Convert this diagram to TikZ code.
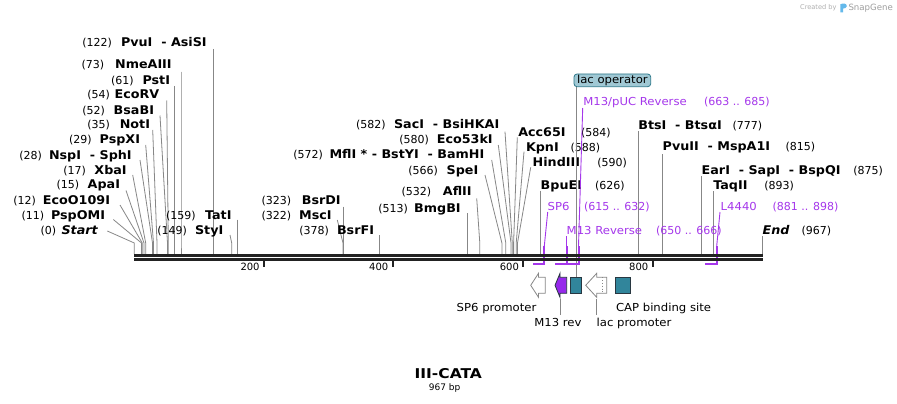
\documentclass[tikz,border=0pt]{standalone}
\usepackage{fontspec}
\setmainfont{DejaVu Sans}
\newfontfamily\lblfont{DejaVu Sans}[FakeStretch=1.06]
\newfontfamily\titlefont{DejaVu Sans}[FakeStretch=1.15]
\definecolor{cutgray}{RGB}{135,135,135}
\definecolor{seqblack}{RGB}{34,34,34}
\definecolor{primer}{RGB}{165,55,235}
\definecolor{mfill}{RGB}{150,40,235}
\definecolor{featteal}{RGB}{49,133,155}
\definecolor{featedge}{RGB}{40,55,65}
\definecolor{lacopfill}{RGB}{160,200,212}
\definecolor{lacopedge}{RGB}{45,120,138}
\definecolor{logoblue}{RGB}{100,185,235}
\definecolor{logogray}{RGB}{175,175,175}
\newcommand{\leftenz}[9]{%
  \node[num] (n#1) at (#2,#4) {#5};
  \node[enzE] (e#1) at (#3,#4) {#6};
  \coordinate (l#1) at (#7,#8);
  \coordinate (k#1) at (#9,243);
  \coordinate (s#1) at (#9,254);
  \draw[cutline] (l#1) -- (k#1) -- (s#1);}
\newcommand{\rightenz}[9]{%
  \node[enzW] (e#1) at (#2,#3) {#4};
  \node[num] (n#1) at (#5,#3) {#6};
  \coordinate (l#1) at (#7,#8);
  \coordinate (k#1) at (#9,243);
  \coordinate (s#1) at (#9,254);
  \draw[cutline] (l#1) -- (k#1) -- (s#1);}
\begin{document}
\begin{tikzpicture}[x=1pt,y=-1pt,
  num/.style={font=\fontsize{11}{13}\selectfont, inner sep=0pt, outer sep=0pt, anchor=base west},
  enzE/.style={font=\lblfont\fontsize{12}{14}\selectfont\bfseries, inner sep=0pt, outer sep=0pt, anchor=base east},
  enzW/.style={font=\lblfont\fontsize{12}{14}\selectfont\bfseries, inner sep=0pt, outer sep=0pt, anchor=base west},
  cutline/.style={draw=cutgray, line width=0.8pt},
  plabel/.style={font=\lblfont\fontsize{11}{13}\selectfont, text=primer, inner sep=0pt, outer sep=0pt, anchor=base west},
  pnum/.style={font=\fontsize{11}{13}\selectfont, text=primer, inner sep=0pt, outer sep=0pt, anchor=base west},
  pthin/.style={draw=primer, line width=0.9pt},
  pthick/.style={draw=primer, line width=2pt, line join=miter},
  flabel/.style={font=\lblfont\fontsize{11}{13}\selectfont, inner sep=0pt, outer sep=0pt, anchor=base west},
  seqline/.style={draw=seqblack, line width=2.6pt},
  tickmark/.style={draw=seqblack, line width=2pt},
  ticklab/.style={font=\fontsize{10}{12}\selectfont, inner sep=0pt, outer sep=0pt, anchor=base east},
  whitearrow/.style={draw=cutgray, line width=0.8pt, fill=white},
  tealbox/.style={draw=featedge, line width=0.8pt, fill=featteal, inner sep=0pt, minimum width=11.7pt, minimum height=16pt},
  lacopbox/.style={draw=lacopedge, fill=lacopfill, line width=0.8pt, rounded corners=3pt, inner sep=0pt,
     minimum width=76.7pt, minimum height=12.7pt, font=\lblfont\fontsize{11}{13}\selectfont},
  featline/.style={draw=cutgray, line width=0.8pt}
]
\useasboundingbox (0,0) rectangle (897,404);
\fill[white] (0,0) rectangle (897,404);

% ---- enzymes, left cluster
\leftenz{PvuI}{82.3}{206.7}{46.7}{(122)}{PvuI~~- AsiSI}{213.3}{49}{213.3}
\leftenz{NmeAIII}{81.7}{171.7}{68.3}{(73)}{NmeAIII}{181}{71.7}{181}
\leftenz{PstI}{111}{170}{84.3}{(61)}{PstI}{174.7}{86}{174.7}
\leftenz{EcoRV}{87.3}{159.3}{99}{(54)}{EcoRV}{166.7}{100.5}{168.3}
\leftenz{BsaBI}{82.3}{154}{114}{(52)}{BsaBI}{160}{115.5}{167.5}
\leftenz{NotI}{87.3}{150}{128.7}{(35)}{NotI}{152.7}{130}{157}
\leftenz{PspXI}{69}{140}{143.7}{(29)}{PspXI}{145.7}{145}{153.5}
\leftenz{NspI}{19.3}{131.7}{159}{(28)}{NspI~~- SphI}{140}{160}{152.5}
\leftenz{XbaI}{63.3}{126.7}{174}{(17)}{XbaI}{132.7}{175}{145.7}
\leftenz{ApaI}{56.7}{120}{188.7}{(15)}{ApaI}{126}{190.5}{144}
\leftenz{EcoO}{13.3}{110}{204}{(12)}{EcoO109I}{120}{205}{142.3}
\leftenz{PspOMI}{21.7}{105}{219.3}{(11)}{PspOMI}{113.3}{219.5}{141.5}
\leftenz{Start}{40.7}{97.7}{234}{(0)}{\itshape Start}{107.3}{231}{134.3}
\leftenz{StyI}{157.3}{223.3}{234}{(149)}{StyI}{230}{235}{231.7}
\leftenz{TatI}{166}{231.5}{219.3}{(159)}{TatI}{237.3}{219.5}{237.3}
% ---- middle
\leftenz{SacI}{356}{499.3}{128.3}{(582)}{SacI~~- BsiHKAI}{505}{131.7}{512.3}
\leftenz{EcoFiftyThree}{399.3}{492.7}{143.3}{(580)}{Eco53kI}{498.3}{145}{511}
\leftenz{MflI}{293.3}{484.3}{158.3}{(572)}{MflI * - BstYI~~- BamHI}{491.7}{160}{505.8}
\leftenz{SpeI}{408.3}{478.3}{174}{(566)}{SpeI}{485}{175}{501.9}
\leftenz{AflII}{401.7}{471.7}{195.3}{(532)}{AflII}{476.7}{198.3}{479.8}
\leftenz{BmgBI}{378.3}{460.7}{212}{(513)}{BmgBI}{467.3}{213.3}{467.3}
\leftenz{BsrDI}{261.7}{340.7}{204}{(323)}{BsrDI}{343.6}{206.7}{343.6}
\leftenz{MscI}{261.7}{331.7}{219}{(322)}{MscI}{337.3}{220}{343}
\leftenz{BsrFI}{299.3}{374}{234}{(378)}{BsrFI}{379.3}{235}{379.3}
% ---- right
\rightenz{Acc}{518.3}{136}{Acc65I}{581}{(584)}{517.3}{137.3}{513.6}
\rightenz{KpnI}{526}{151}{KpnI}{570.7}{(588)}{524}{151.7}{516.2}
\rightenz{HindIII}{532.7}{166}{HindIII}{597.3}{(590)}{530.7}{167.3}{517.5}
\rightenz{BpuEI}{540.7}{189}{BpuEI}{595}{(626)}{540.7}{190.7}{540.7}
\rightenz{BtsI}{638.3}{129}{BtsI~~- BtsαI}{732.7}{(777)}{638.3}{131}{638.3}
\rightenz{PvuII}{662.7}{150.7}{PvuII~~- MspA1I}{785.7}{(815)}{662.7}{154}{662.7}
\rightenz{EarI}{701.7}{174}{EarI~~- SapI~~- BspQI}{853.3}{(875)}{701.7}{176}{701.7}
\rightenz{TaqII}{713.3}{189}{TaqII}{764.3}{(893)}{713.7}{191}{713.7}
\rightenz{End}{762.7}{234}{\itshape End}{801.7}{(967)}{762.7}{236}{762.7}

% ---- lac operator label and connector
\node[lacopbox] (lacop) at (612.35,80.35) {lac operator};
\coordinate (lacopA) at (576.5,86.7);
\coordinate (lacopB) at (576.5,277.3);
\draw[featline] (lacopA) -- (lacopB);

% ---- primers
\node[plabel] (pPUC) at (583.3,106) {M13/pUC Reverse};
\node[pnum] (pPUCn) at (704,106) {(663 .. 685)};
\coordinate (cPUC) at (582.7,108);
\coordinate (kPUC) at (578.5,246);
\coordinate (bPUC) at (578.5,264.3);
\coordinate (ePUC) at (565,264.3);
\draw[pthin] (cPUC) -- (kPUC);
\draw[pthick] (kPUC) -- (bPUC) -- (ePUC);

\node[plabel] (pSP) at (547.7,210.7) {SP6};
\node[pnum] (pSPn) at (584,210.7) {(615 .. 632)};
\coordinate (cSP) at (547.7,212);
\coordinate (kSP) at (544.3,246);
\coordinate (bSP) at (544.3,264.3);
\coordinate (eSP) at (533.3,264.3);
\draw[pthin] (cSP) -- (kSP);
\draw[pthick] (kSP) -- (bSP) -- (eSP);

\node[plabel] (pMR) at (566.7,234) {M13 Reverse};
\node[pnum] (pMRn) at (656,234) {(650 .. 666)};
\coordinate (cMR) at (566.7,236);
\coordinate (kMR) at (566.7,246);
\coordinate (bMR) at (566.7,264.3);
\coordinate (eMR) at (555,264.3);
\draw[pthin] (cMR) -- (kMR);
\draw[pthick] (kMR) -- (bMR) -- (eMR);

\node[plabel] (pL) at (720.7,210.7) {L4440};
\node[pnum] (pLn) at (772.7,210.7) {(881 .. 898)};
\coordinate (cL) at (720,212);
\coordinate (kL) at (716.7,246);
\coordinate (bL) at (716.7,264.3);
\coordinate (eL) at (705,264.3);
\draw[pthin] (cL) -- (kL);
\draw[pthick] (kL) -- (bL) -- (eL);

% ---- sequence
\coordinate (seqTL) at (134.3,255.3);
\coordinate (seqTR) at (762.7,255.3);
\coordinate (seqBL) at (134.3,259.5);
\coordinate (seqBR) at (762.7,259.5);
\draw[seqline] (seqTL) -- (seqTR);
\draw[seqline] (seqBL) -- (seqBR);

% ---- ticks
\foreach \tx/\tl in {264/200, 392.7/400, 523.3/600, 652.7/800}{
  \coordinate (ta\tl) at (\tx,261);
  \coordinate (tb\tl) at (\tx,267);
  \draw[tickmark] (ta\tl) -- (tb\tl);
  \node[ticklab] (tl\tl) at (\tx-4.4,270) {\tl};
}

% ---- features
\draw[whitearrow] (530.7,285.3) -- (538.5,273.3) -- (538.5,277.3) -- (545.3,277.3)
   -- (545.3,293.3) -- (538.5,293.3) -- (538.5,297.3) -- cycle;
\draw[draw=featedge, line width=0.8pt, fill=mfill] (555,285.3) -- (560,273.3) -- (560,277.3) -- (566.7,277.3)
   -- (566.7,293.3) -- (560,293.3) -- (560,297.3) -- cycle;
\node[tealbox] (featLacOp) at (575.85,285.3) {};
\draw[whitearrow] (585.7,285.3) -- (596.7,273.3) -- (596.7,277.3) -- (606.7,277.3)
   -- (606.7,293.3) -- (596.7,293.3) -- (596.7,297.3) -- cycle;
\draw[draw=cutgray, line width=0.8pt, dotted] (602.7,277.3) -- (602.7,293.3);
\node[tealbox, minimum width=14.3pt] (featCAP) at (622.85,285.3) {};

\node[flabel] (fSP6) at (456.7,311.5) {SP6 promoter};
\node[flabel] (fCAP) at (616,311.5) {CAP binding site};
\node[flabel] (fM13) at (534.3,326) {M13 rev};
\node[flabel] (fLacP) at (596.7,326) {lac promoter};
\coordinate (m13top) at (560.7,298.5);
\coordinate (m13bot) at (560.7,315);
\draw[featline] (m13top) -- (m13bot);
\coordinate (lacPtop) at (596.7,298.5);
\coordinate (lacPbot) at (596.7,315);
\draw[featline] (lacPtop) -- (lacPbot);

% ---- title
\node[font=\titlefont\fontsize{13.5}{15}\selectfont\bfseries, anchor=base, inner sep=0pt] (title) at (448.3,378.3) {III-CATA};
\node[font=\fontsize{9}{11}\selectfont, anchor=base, inner sep=0pt] (size) at (444.7,390) {967 bp};

% ---- logo
\node[font=\fontsize{6.6}{8}\selectfont, text=logogray, anchor=base west, inner sep=0pt] (created) at (800,10) {Created by};
\fill[logoblue] (840.3,12.3) -- (840.3,4.2) .. controls (843.5,2.8) and (847.2,3.6) .. (846.8,6.3)
   .. controls (846.5,8) and (844.5,8.4) .. (843,8.6) -- (843,12.3) -- cycle;
\node[font=\fontsize{8.6}{10}\selectfont, text=logogray!90!black, anchor=base west, inner sep=0pt] (snapgene) at (848.3,11) {SnapGene};
\end{tikzpicture}
\end{document}
